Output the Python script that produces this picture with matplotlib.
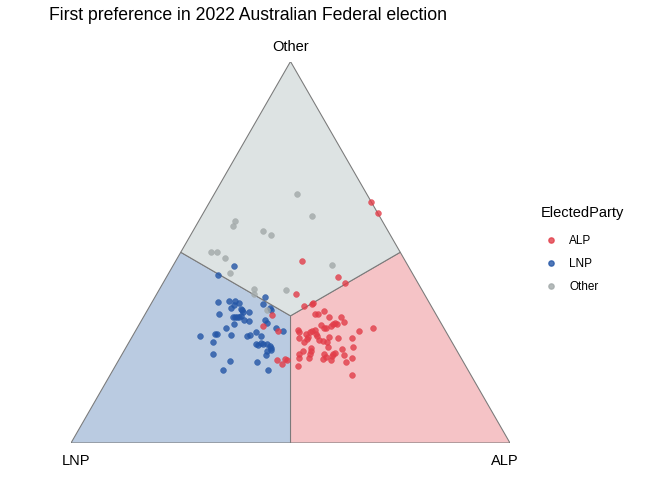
import numpy as np
import matplotlib
matplotlib.use("Agg")
import matplotlib.pyplot as plt
from matplotlib.patches import Polygon
from matplotlib.lines import Line2D

plt.rcParams['font.family'] = ['Liberation Sans', 'DejaVu Sans']

# first preference share (%) of ALP and of Other candidates in each seat,
# grouped by the party that won the seat; the LNP share is the remainder
alp_won_alp = [36.8, 39.7, 28.7, 39.0, 41.4, 31.7, 35.1, 36.7, 36.8, 29.0,
               28.4, 32.5, 36.0, 37.7, 37.7, 38.2, 40.3, 38.6, 39.3, 42.2,
               44.9, 46.3, 41.4, 42.5, 43.0, 43.9, 44.1, 44.4, 45.0, 53.7,
               50.9, 36.9, 37.4, 39.9, 40.2, 40.7, 41.5, 42.0, 39.2, 40.1,
               40.1, 38.1, 39.8, 42.9, 44.0, 45.1, 44.9, 47.0, 50.2, 45.9,
               49.4, 51.6, 42.2, 42.6, 40.8, 40.2, 42.7, 45.9, 46.8, 46.4,
               48.0, 48.3, 48.0, 50.6, 40.8, 43.1, 48.3, 52.9, 52.0, 41.6,
               55.1]
alp_won_oth = [63.2, 60.3, 47.8, 43.6, 42.0, 39.1, 36.0, 36.5, 36.7, 33.6,
               30.7, 29.4, 21.8, 20.8, 22.1, 21.8, 34.7, 33.9, 33.9, 33.1,
               33.1, 31.8, 31.0, 30.2, 30.2, 30.7, 31.2, 31.5, 31.2, 30.2,
               29.4, 29.7, 29.1, 29.1, 29.4, 29.7, 28.6, 28.1, 28.6, 27.8,
               27.3, 27.6, 26.5, 27.1, 26.8, 26.5, 27.8, 27.6, 27.6, 25.2,
               24.7, 25.2, 25.0, 24.2, 24.2, 23.4, 23.4, 23.4, 22.6, 22.1,
               23.4, 23.6, 22.9, 23.1, 22.3, 22.3, 21.8, 22.3, 21.3, 20.2,
               17.9]

lnp_won_alp = [14.0, 11.5, 15.0, 17.4, 18.7, 19.9, 19.1, 18.8, 21.1, 21.5,
               22.0, 16.8, 25.1, 25.5, 27.6, 28.1, 23.4, 20.4, 20.8, 21.3,
               21.7, 22.1, 23.3, 24.6, 28.1, 28.9, 21.6, 20.2, 31.6, 33.6,
               27.6, 18.5, 19.0, 22.3, 26.1, 26.6, 29.2, 15.4, 19.1, 29.2,
               29.8, 30.1, 30.8, 31.7, 32.6, 33.1, 32.6, 33.4, 32.9, 20.7,
               25.5, 31.7, 25.1, 35.3]
lnp_won_oth = [46.4, 44.1, 37.0, 37.3, 37.3, 36.7, 36.2, 35.4, 35.2, 34.9,
               34.4, 33.9, 38.3, 36.5, 35.4, 34.9, 34.4, 33.1, 33.1, 33.1,
               33.1, 33.3, 32.3, 32.0, 32.3, 31.5, 31.2, 30.2, 30.2, 29.4,
               29.1, 28.6, 28.6, 28.4, 28.1, 28.4, 28.1, 28.1, 26.5, 26.0,
               25.7, 26.3, 26.0, 26.0, 25.5, 25.0, 24.2, 24.4, 23.1, 23.4,
               21.5, 21.3, 19.2, 19.2]

oth_won_alp = [18.8, 25.1, 8.3, 8.4, 16.0, 18.3, 6.9, 8.2, 10.9, 13.9,
               36.1, 21.5, 22.2, 28.9, 27.2]
oth_won_oth = [65.3, 59.6, 58.2, 56.9, 55.6, 54.6, 50.1, 50.1, 48.5, 44.6,
               46.7, 40.4, 39.1, 40.2, 34.9]

parties = ['ALP', 'LNP', 'Other']
point_colours = {'ALP': '#E23D49', 'LNP': '#2456A6', 'Other': '#A2A9A9'}
region_colours = {'ALP': '#F5C3C6', 'LNP': '#BACBE1', 'Other': '#DDE3E3'}
edge_colour = '#7A7A7A'

seats = {
    'ALP': (np.array(alp_won_alp), np.array(alp_won_oth)),
    'LNP': (np.array(lnp_won_alp), np.array(lnp_won_oth)),
    'Other': (np.array(oth_won_alp), np.array(oth_won_oth)),
}

H = np.sqrt(3) / 2


def tern_xy(lnp, alp, oth):
    """ternary (LNP bottom-left, ALP bottom-right, Other top) -> cartesian"""
    lnp, alp, oth = np.asarray(lnp, float), np.asarray(alp, float), np.asarray(oth, float)
    tot = lnp + alp + oth
    return (alp + oth / 2) / tot, oth * H / tot


fig = plt.figure(figsize=(7, 5), dpi=96)
ax = fig.add_axes([71 / 672, 37 / 480, 439 / 672, 381.5 / 480])
ax.set_xlim(0, 1)
ax.set_ylim(0, H)
ax.axis('off')

# regions where each party has the largest first preference share
corners = {'LNP': (1, 0, 0), 'ALP': (0, 1, 0), 'Other': (0, 0, 1)}
centre = (1 / 3, 1 / 3, 1 / 3)
for p in parties:
    c = np.array(corners[p], float)
    others = [np.array(corners[q], float) for q in parties if q != p]
    pts = [c, (c + others[0]) / 2, np.array(centre), (c + others[1]) / 2]
    xy = [tern_xy(*v) for v in pts]
    ax.add_patch(Polygon(xy, closed=True, facecolor=region_colours[p],
                         edgecolor=edge_colour, lw=0.8, zorder=1))

for p in ['LNP', 'Other', 'ALP']:
    alp, oth = seats[p]
    lnp = 100 - alp - oth
    x, y = tern_xy(lnp, alp, oth)
    ax.scatter(x, y, s=19, color=point_colours[p], alpha=0.8,
               edgecolors=point_colours[p], linewidths=0.4, zorder=3)

# vertex labels
lab_kw = dict(textcoords='offset points', fontsize=11, ha='center', va='center')
ax.annotate('Other', tern_xy(0, 0, 1), xytext=(0, 10.5), **lab_kw)
ax.annotate('LNP', tern_xy(1, 0, 0), xytext=(3.8, -13.5), **lab_kw)
ax.annotate('ALP', tern_xy(0, 1, 0), xytext=(-4.0, -13.5), **lab_kw)

fig.text(49 / 672, 1 - 16 / 480, 'First preference in 2022 Australian Federal election',
         fontsize=13.2, ha='left', va='center')

# legend: title as its own text so the gap to the keys can follow the reference
fig.text(541 / 672, 1 - 213 / 480, 'ElectedParty', fontsize=11, ha='left', va='center')
handles = [Line2D([], [], ls='none', marker='o', markersize=4.0,
                  color=point_colours[p], alpha=0.8) for p in parties]
leg = fig.legend(handles, parties, loc='upper left',
                 bbox_to_anchor=(540 / 672, 1 - 235 / 480), frameon=False,
                 fontsize=8.8, borderpad=0, borderaxespad=0,
                 handlelength=1.9, handletextpad=0.6, labelspacing=0.95)

fig.savefig('out.png', dpi=96)
